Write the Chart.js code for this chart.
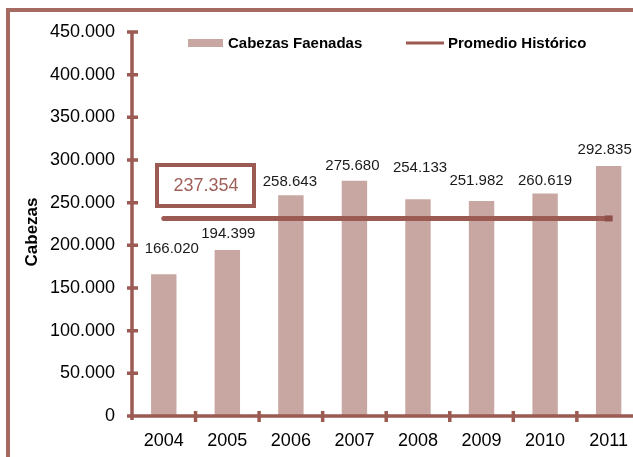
<!DOCTYPE html>
<html>
<head>
<meta charset="utf-8">
<script src="https://cdn.jsdelivr.net/npm/chart.js@4.4.1/dist/chart.umd.min.js"></script>
<style>
html,body{margin:0;padding:0;background:#fff;overflow:hidden;width:633px;height:457px;}
#marco{position:absolute;left:6px;top:8px;width:700px;height:520px;border:4px solid #a76a63;box-sizing:border-box;}
#grafico{position:absolute;left:0;top:0;}
</style>
</head>
<body>
<div id="marco"></div>
<canvas id="grafico" width="642" height="470"></canvas>
<script>
const anios = ['2004','2005','2006','2007','2008','2009','2010','2011'];
const cabezas = [166020, 194399, 258643, 275680, 254133, 251982, 260619, 292835];
const promedio = [231500, 231500, 231500, 231500, 231500, 231500, 231500, 231500];
const etiquetaPromedio = '237.354';
const yMin = 0, yMax = 450000, yPaso = 50000;

// ajustes a mano de las etiquetas (como en la planilla original)
const etiquetaDx = [8, 1, -1, -2, 2, -5, 0, -4];
const etiquetaDy = [25, 16, 13, 15, 31, 20, 13, 16];

const fuente = '"Liberation Sans", Arial, sans-serif';
const colorBarra = '#c8a7a3';
const colorEje = '#9b5a52';

function fmt(v){
  return String(v).replace(/\B(?=(\d{3})+(?!\d))/g, '.');
}

const ejes = {
  id: 'ejes',
  afterDatasetsDraw(chart){
    const {ctx, chartArea: a, scales: {x, y}} = chart;
    const y0 = y.getPixelForValue(0);
    ctx.save();
    ctx.strokeStyle = colorEje;
    ctx.lineWidth = 3.5;
    ctx.beginPath();
    ctx.moveTo(a.left, y.getPixelForValue(yMax) - 1);
    ctx.lineTo(a.left, y0 + 4);
    ctx.moveTo(a.left - 5, y0);
    ctx.lineTo(a.right + 10, y0);
    y.ticks.forEach(t => {
      const py = y.getPixelForValue(t.value);
      ctx.moveTo(a.left - 5, py);
      ctx.lineTo(a.left + 6, py);
    });
    for (let i = 1; i < anios.length; i++) {
      const px = (x.getPixelForValue(i - 1) + x.getPixelForValue(i)) / 2;
      ctx.moveTo(px, y0 - 5);
      ctx.lineTo(px, y0 + 6);
    }
    ctx.stroke();

    // etiquetas de las barras
    ctx.fillStyle = '#1a1a1a';
    ctx.font = '15px ' + fuente;
    ctx.textAlign = 'center';
    ctx.textBaseline = 'middle';
    chart.getDatasetMeta(0).data.forEach((b, i) => {
      ctx.fillText(fmt(cabezas[i]), b.x + etiquetaDx[i], b.y - etiquetaDy[i]);
    });

    // marca al final del promedio
    const ult = chart.getDatasetMeta(1).data[anios.length - 1];
    ctx.fillStyle = '#8e4f48';
    ctx.fillRect(ult.x - 4, ult.y - 3, 8, 6);

    // recuadro del promedio
    ctx.strokeStyle = colorEje;
    ctx.lineWidth = 4;
    ctx.strokeRect(157, 165, 97, 41);
    ctx.fillStyle = '#a0605a';
    ctx.font = '18px ' + fuente;
    ctx.fillText(etiquetaPromedio, 206, 186);

    // titulo eje y
    ctx.save();
    ctx.translate(32, 232);
    ctx.rotate(-Math.PI / 2);
    ctx.fillStyle = '#000';
    ctx.font = 'bold 17px ' + fuente;
    ctx.fillText('Cabezas', 0, 0);
    ctx.restore();

    // leyenda
    ctx.fillStyle = colorBarra;
    ctx.fillRect(188, 39, 35, 8);
    ctx.strokeStyle = colorEje;
    ctx.lineWidth = 3;
    ctx.beginPath();
    ctx.moveTo(406, 43);
    ctx.lineTo(444, 43);
    ctx.stroke();
    ctx.fillStyle = '#000';
    ctx.font = 'bold 15px ' + fuente;
    ctx.textAlign = 'left';
    ctx.fillText('Cabezas Faenadas', 228, 44);
    ctx.fillText('Promedio Histórico', 448, 44);
    ctx.restore();
  }
};

new Chart(document.getElementById('grafico').getContext('2d'), {
  type: 'bar',
  data: {
    labels: anios,
    datasets: [{
      type: 'bar',
      label: 'Cabezas Faenadas',
      data: cabezas,
      backgroundColor: colorBarra,
      barPercentage: 0.4,
      categoryPercentage: 1,
      order: 1
    }, {
      type: 'line',
      label: 'Promedio Histórico',
      data: promedio,
      borderColor: colorEje,
      borderWidth: 5,
      borderCapStyle: 'round',
      pointRadius: 0,
      order: 0
    }]
  },
  options: {
    responsive: false,
    animation: false,
    layout: {padding: {top: 32, left: 0, right: 0, bottom: 0}},
    plugins: {legend: {display: false}, tooltip: {enabled: false}},
    scales: {
      x: {
        offset: true,
        grid: {display: false, drawTicks: false},
        border: {display: false},
        ticks: {color: '#000', font: {size: 18, family: fuente}, padding: 14},
        afterFit(s){ s.height = 54; }
      },
      y: {
        min: yMin,
        max: yMax,
        grid: {display: false, drawTicks: false},
        border: {display: false},
        ticks: {stepSize: yPaso, color: '#000', font: {size: 18, family: fuente}, padding: 17, callback: v => fmt(v)},
        afterFit(s){ s.width = 132; }
      }
    }
  },
  plugins: [ejes]
});
</script>
</body>
</html>
